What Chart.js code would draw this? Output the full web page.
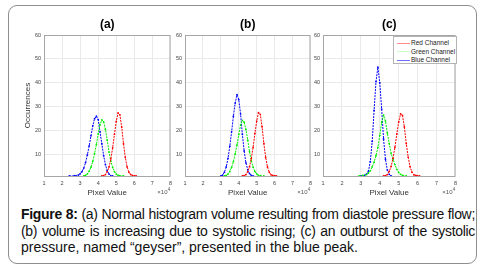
<!DOCTYPE html>
<html>
<head>
<meta charset="utf-8">
<script src="https://cdn.jsdelivr.net/npm/chart.js@4.4.0/dist/chart.umd.min.js"></script>
<style>
  html, body { margin: 0; padding: 0; background: #fff; }
  body { width: 480px; height: 270px; position: relative; overflow: hidden; font-family: "Liberation Sans", Arial, sans-serif; }
  #frame { position: absolute; left: 8px; top: 5px; width: 467px; height: 257px; border: 1px solid #8e8e8e; border-radius: 9px; }
  canvas { position: absolute; top: 14px; }
  #legend { position: absolute; left: 393px; top: 36px; width: 62px; height: 26px; border: 1px solid #b4b4b4; background: #fff; font-size: 6.5px; color: #222; }
  .lg { position: absolute; left: 3px; height: 8px; line-height: 8px; white-space: nowrap; }
  .lg i { display: inline-block; width: 13px; height: 1px; vertical-align: middle; margin-right: 1px; }
  #caption { position: absolute; left: 21px; top: 206px; width: 454px; font-size: 14px; line-height: 16.5px; color: #111; }
  .jl { text-align: justify; text-align-last: justify; letter-spacing: -0.32px; }
</style>
</head>
<body>
<div id="frame"></div>
<canvas id="pa" width="153" height="186" style="left:23px"></canvas>
<canvas id="pb" width="151" height="186" style="left:165px"></canvas>
<canvas id="pc" width="158" height="186" style="left:303px"></canvas>
<div id="legend">
  <div class="lg" style="top:2px"><i style="background:#ff8a8a"></i>Red Channel</div>
  <div class="lg" style="top:10.5px"><i style="background:#c8ffc8"></i>Green Channel</div>
  <div class="lg" style="top:19px"><i style="background:#7070ff"></i>Blue Channel</div>
</div>
<div id="caption">
  <div class="jl"><b>Figure 8:</b> (a) Normal histogram volume resulting from diastole pressure flow;</div>
  <div class="jl">(b) volume is increasing due to systolic rising; (c) an outburst of the systolic</div>
  <div>pressure, named “geyser”, presented in the blue peak.</div>
</div>
<script>
const panelTitles = ['(a)', '(b)', '(c)'];
const xTicks = [1, 2, 3, 4, 5, 6, 7, 8];
const yTicks = [10, 20, 30, 40, 50, 60];

// panel (a)
const aBlueX  = [2.4, 2.7, 2.9, 3.0, 3.1, 3.2, 3.3, 3.4, 3.5, 3.6, 3.7, 3.8, 3.9, 4.0, 4.1, 4.2, 4.3, 4.4, 4.5, 4.6, 4.7, 4.8];
const aBlueY  = [1, 1.1, 1.4, 1.9, 2.8, 4.3, 6.6, 9.8, 13.6, 17.8, 22, 25, 26, 24.6, 19.5, 14.5, 9.5, 5.8, 3.2, 1.8, 1.1, 1];
const aGreenX = [3.2, 3.3, 3.4, 3.5, 3.6, 3.7, 3.8, 3.9, 4.0, 4.1, 4.2, 4.3, 4.4, 4.5, 4.6, 4.7, 4.8, 4.9, 5.0, 5.1, 5.2, 5.4];
const aGreenY = [1, 1.3, 1.9, 3, 4.7, 7.2, 10.4, 14.2, 18.6, 22.5, 24.5, 23.6, 20.5, 16, 11, 7.2, 4.6, 2.8, 1.8, 1.3, 1.1, 1];
const aRedX   = [4.2, 4.3, 4.4, 4.5, 4.6, 4.7, 4.8, 4.9, 5.0, 5.1, 5.2, 5.3, 5.4, 5.5, 5.6, 5.7, 5.8, 5.9, 6.0, 6.1];
const aRedY   = [1, 1.1, 1.6, 2.8, 4.8, 8.2, 12.8, 18.5, 23.8, 27.4, 26.6, 21.5, 14.5, 8.8, 4.8, 2.6, 1.6, 1.2, 1.05, 1];

// panel (b)
const bBlueX  = [3.0, 3.1, 3.2, 3.3, 3.4, 3.5, 3.6, 3.7, 3.8, 3.9, 4.0, 4.1, 4.2, 4.3, 4.4, 4.5, 4.6, 4.7, 4.8];
const bBlueY  = [1, 1.4, 2.6, 4.8, 8.4, 13.5, 19.5, 26, 31.5, 35, 33, 27, 18.5, 11.5, 6.5, 3.6, 2, 1.3, 1];
const bGreenX = [3.2, 3.3, 3.4, 3.5, 3.6, 3.7, 3.8, 3.9, 4.0, 4.1, 4.2, 4.3, 4.4, 4.5, 4.6, 4.7, 4.8, 4.9, 5.0, 5.1, 5.2, 5.4];
const bGreenY = [1, 1.2, 1.8, 2.9, 4.6, 7, 10.2, 14, 18.4, 22.3, 24.3, 23.5, 20.5, 16, 11.2, 7.3, 4.7, 2.9, 1.9, 1.3, 1.1, 1];
const bRedX   = [4.2, 4.3, 4.4, 4.5, 4.6, 4.7, 4.8, 4.9, 5.0, 5.1, 5.2, 5.3, 5.4, 5.5, 5.6, 5.7, 5.8, 5.9, 6.0, 6.1];
const bRedY   = [1, 1.1, 1.6, 2.8, 4.9, 8.3, 13, 18.8, 24, 27.5, 26.8, 21.6, 14.6, 8.8, 4.8, 2.6, 1.5, 1.2, 1.05, 1];

// panel (c)
const cBlueX  = [3.0, 3.2, 3.3, 3.4, 3.5, 3.6, 3.7, 3.8, 3.9, 4.0, 4.1, 4.2, 4.3, 4.4, 4.5, 4.6];
const cBlueY  = [1, 1.3, 1.8, 3, 7, 15.5, 28.5, 40.5, 46.5, 40, 29, 16.5, 8, 3.5, 1.7, 1];
const cGreenX = [2.9, 3.1, 3.3, 3.4, 3.5, 3.6, 3.7, 3.8, 3.9, 4.0, 4.1, 4.2, 4.3, 4.4, 4.5, 4.6, 4.7, 4.8, 4.9, 5.0, 5.1, 5.2, 5.4];
const cGreenY = [1, 1.2, 1.6, 2.2, 3.2, 4.8, 6.8, 9.5, 13, 18, 23.5, 26.5, 24, 19, 14.5, 10.5, 8, 5.8, 3.8, 2.5, 1.7, 1.3, 1];
const cRedX   = [4.2, 4.3, 4.4, 4.5, 4.6, 4.7, 4.8, 4.9, 5.0, 5.1, 5.2, 5.3, 5.4, 5.5, 5.6, 5.7, 5.8, 5.9, 6.0, 6.1];
const cRedY   = [1, 1.1, 1.6, 2.9, 5, 8.4, 13, 18.6, 23.6, 27, 26.4, 21.5, 14.6, 8.9, 4.9, 2.6, 1.5, 1.2, 1.05, 1];

const FONT = '"Liberation Sans", Arial, sans-serif';
const toPts = (xs, ys) => xs.map((x, i) => ({ x, y: ys[i] }));

const curve = (label, color, xs, ys) => ({
  label, data: toPts(xs, ys),
  borderColor: color, backgroundColor: color,
  borderWidth: 1, borderDash: [2, 1],
  pointRadius: 0.9, pointBorderWidth: 0, pointHoverRadius: 0,
  tension: 0, fill: false
});

// titles, axes box and the x10^4 multiplier
const panelDeco = {
  id: 'panelDeco',
  afterDraw(chart, args, opts) {
    const { ctx, chartArea: a } = chart;
    ctx.save();
    ctx.strokeStyle = '#a6a6a6';
    ctx.lineWidth = 1;
    ctx.strokeRect(a.left + 0.5, a.top + 0.5, a.right - a.left - 1, a.bottom - a.top);
    ctx.fillStyle = '#000';
    ctx.font = 'bold 12px ' + FONT;
    ctx.textAlign = 'center'; ctx.textBaseline = 'middle';
    ctx.fillText(opts.title, (a.left + a.right) / 2, a.top - 10);
    ctx.fillStyle = '#555';
    ctx.font = '6px ' + FONT;
    ctx.textAlign = 'left';
    const w = ctx.measureText('×10').width;
    const x0 = a.right - w - 3;
    ctx.fillText('×10', x0, a.bottom + 16);
    ctx.font = '4.5px ' + FONT;
    ctx.fillText('4', x0 + w + 0.3, a.bottom + 13.5);
    ctx.restore();
  }
};

function makePanel(id, title, sets, yTitle, yWidth) {
  return new Chart(document.getElementById(id), {
    type: 'line',
    data: { datasets: sets },
    plugins: [panelDeco],
    options: {
      responsive: false, animation: false, devicePixelRatio: 1,
      layout: { padding: { top: 21, right: 4, left: 0, bottom: 0 } },
      plugins: { legend: { display: false }, tooltip: { enabled: false }, panelDeco: { title } },
      scales: {
        x: {
          type: 'linear', min: 1, max: 8,
          afterBuildTicks: s => { s.ticks = xTicks.map(v => ({ value: v })); },
          afterFit: s => { s.height = 24; },
          grid: { color: '#e9e9e9', drawTicks: false },
          border: { display: false },
          ticks: { font: { size: 5.5, family: FONT }, color: '#444', padding: 4, maxRotation: 0 },
          title: { display: true, text: 'Pixel Value', font: { size: 8, family: FONT }, color: '#333', padding: { top: 0, bottom: 2 } }
        },
        y: {
          type: 'linear', min: 1, max: 60,
          afterBuildTicks: s => { s.ticks = yTicks.map(v => ({ value: v })); },
          afterFit: s => { s.width = yWidth; },
          grid: { color: '#e9e9e9', drawTicks: false },
          border: { display: false },
          ticks: { font: { size: 5.5, family: FONT }, color: '#444', padding: 3 },
          title: { display: yTitle, text: 'Occurrences', font: { size: 8, family: FONT }, color: '#333', padding: 0 }
        }
      }
    }
  });
}

makePanel('pa', panelTitles[0], [
  curve('Red Channel', '#ff0000', aRedX, aRedY),
  curve('Green Channel', '#00ee00', aGreenX, aGreenY),
  curve('Blue Channel', '#0000ff', aBlueX, aBlueY)
], true, 21);

makePanel('pb', panelTitles[1], [
  curve('Red Channel', '#ff0000', bRedX, bRedY),
  curve('Green Channel', '#00ee00', bGreenX, bGreenY),
  curve('Blue Channel', '#0000ff', bBlueX, bBlueY)
], false, 20);

makePanel('pc', panelTitles[2], [
  curve('Red Channel', '#ff0000', cRedX, cRedY),
  curve('Green Channel', '#00ee00', cGreenX, cGreenY),
  curve('Blue Channel', '#0000ff', cBlueX, cBlueY)
], false, 20);
</script>
</body>
</html>
